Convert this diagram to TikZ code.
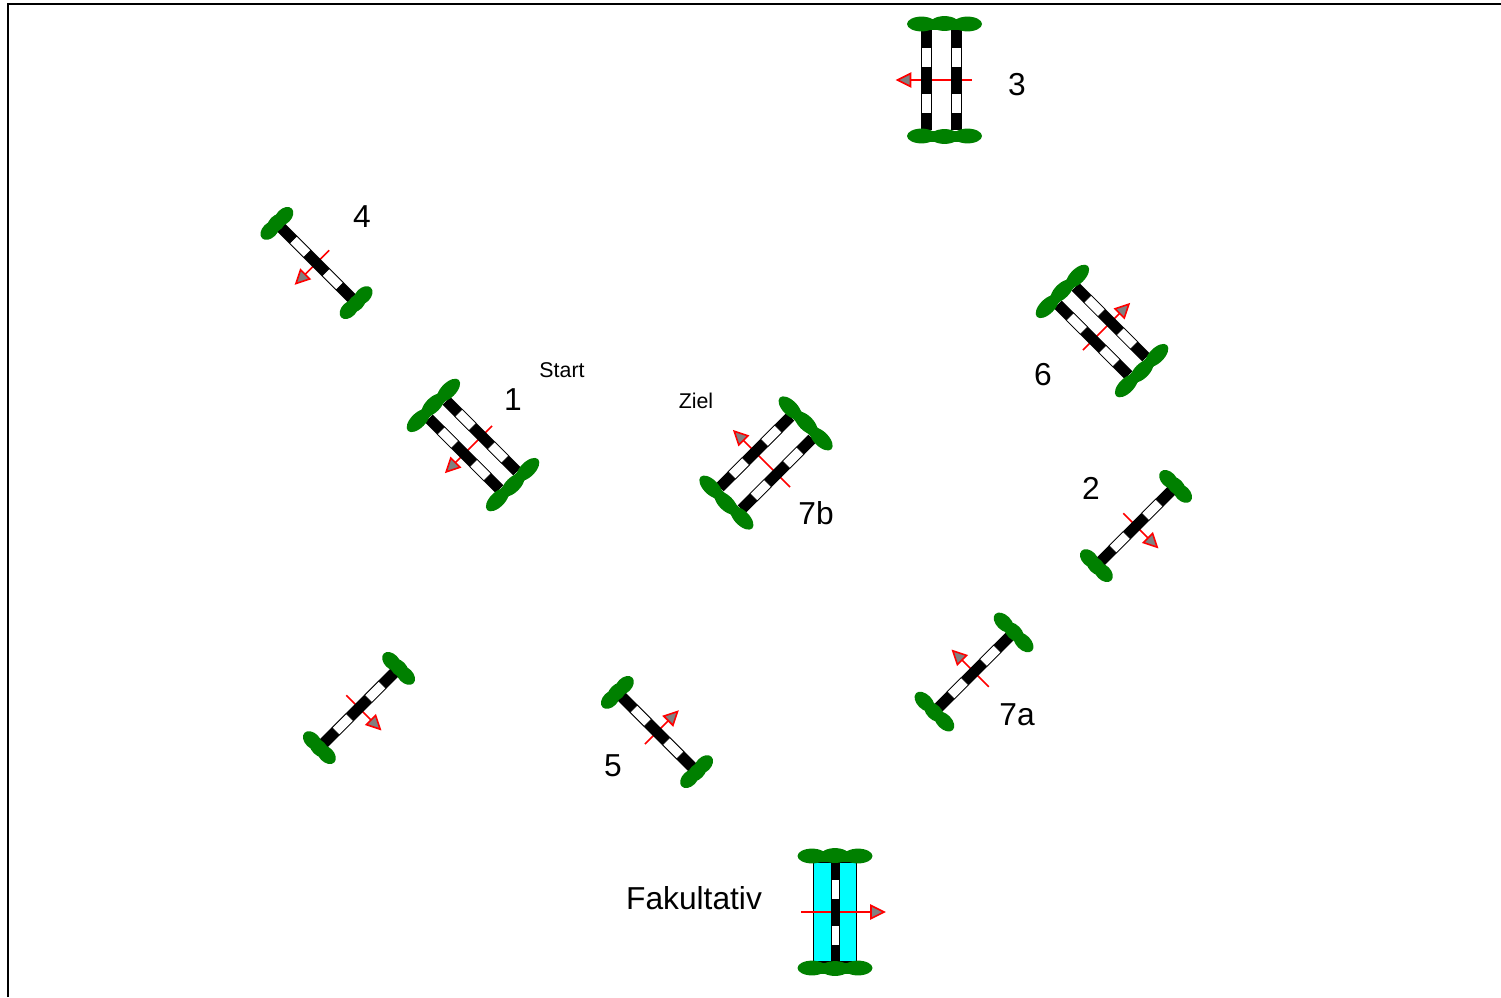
\documentclass[tikz,border=0pt]{standalone}
\usepackage{fontspec}
\setmainfont{Liberation Sans}
\definecolor{leaf}{RGB}{0,128,0}
\definecolor{rd}{RGB}{255,0,0}
\definecolor{hd}{RGB}{128,128,128}
\definecolor{aqua}{RGB}{0,255,255}
\tikzset{
  x=0.75pt,y=0.75pt,
  leafshape/.style={fill=leaf,draw=none},
  blackseg/.style={fill=black,draw=none},
  whiteseg/.style={fill=white,draw=black,line width=0.5pt},
  redline/.style={draw=rd,line width=1.2pt},
  redhead/.style={draw=rd,fill=hd,line width=1.2pt,line join=miter},
  biglabel/.style={font=\fontsize{23.8pt}{26pt}\selectfont,inner sep=0pt},
  smalllabel/.style={font=\fontsize{16pt}{18pt}\selectfont,inner sep=0pt}
}
% pole centred on local x = #1, half width #2
\newcommand{\pole}[2]{%
  \fill[blackseg] ({#1-#2},-50) rectangle ({#1+#2},50);
  \draw[whiteseg] ({#1-#2+0.4},13) rectangle ({#1+#2-0.4},33);
  \draw[whiteseg] ({#1-#2+0.4},-33) rectangle ({#1+#2-0.4},-13);
}
% foliage bars: #1 centre offset, #2 half-spacing of the blobs, #3 blob half length
\newcommand{\foliage}[3]{%
  \foreach \s in {1,-1}{%
    \fill[leafshape] ({#1-#2},{\s*56}) ellipse [x radius=#3,y radius=7.4];
    \fill[leafshape] (#1,{\s*56.5}) ellipse [x radius=#3,y radius=7.4];
    \fill[leafshape] ({#1+#2},{\s*56}) ellipse [x radius=#3,y radius=7.4];
    \fill[leafshape] ({#1-#2},{\s*56-5.5}) rectangle ({#1+#2},{\s*56+5.5});
  }%
}
% arrow: #1 name, #2 tail distance, #3 tip distance
\newcommand{\crossarrow}[3]{%
  \coordinate (#1t) at (#2,0);
  \coordinate (#1b) at ({-#3+12},0);
  \coordinate (#1p) at ({-#3},0);
  \draw[redline] (#1t) -- (#1b);
  \draw[redhead] (#1p) -- ({-#3+13},6.5) -- ({-#3+13},-6.5) -- cycle;
}
% #1 name, #2 cx, #3 cy, #4 rotation, #5 tail, #6 tip, #7 foliage offset, #8 pole offset, #9 blob spacing
\newcommand{\doublegate}[9]{%
  \begin{scope}[shift={(#2,-#3)},rotate=#4]
    \crossarrow{#1}{#5}{#6}
    \pole{-#8}{5.5}\pole{#8}{5.5}
    \foliage{#7}{#9}{14.5}
  \end{scope}}
\newcommand{\singlegate}[6]{%
  \begin{scope}[shift={(#2,-#3)},rotate=#4]
    \crossarrow{#1}{#5}{#6}
    \pole{0}{5.5}
    \foliage{0}{10}{11}
  \end{scope}}
\begin{document}
\begin{tikzpicture}
\useasboundingbox (0,0) rectangle (1501,-997);
\draw[line width=1.5pt] (8,-997) -- (8,-4) -- (1501,-4);

\doublegate{gthree}{941.5}{80}{0}{30}{44}{3}{15}{23}
\doublegate{gone}{473}{445}{45}{27}{38}{0}{12.5}{21.5}
\doublegate{gsix}{1102}{331}{225}{27}{38}{0}{12.5}{21.5}
\doublegate{gsevb}{766}{463}{-45}{34}{45}{0}{15.5}{22}

\singlegate{gfour}{316.5}{263}{45}{18}{29}
\singlegate{gtwo}{1136}{526}{135}{18}{30}
\singlegate{gnone}{359}{708}{135}{18}{30}
\singlegate{gfive}{657}{732}{225}{17}{29}
\begin{scope}[shift={(974,-672)},rotate=-45]
  \crossarrow{gseva}{21}{30}
  \pole{0}{5.5}
  \foliage{0}{14}{12}
\end{scope}

% optional gate
\begin{scope}[shift={(835,-912)},rotate=180]
  \draw[fill=aqua,line width=1.2pt] (-21.5,-50) rectangle (21.5,50);
  \crossarrow{gfak}{34}{49}
  \pole{0}{4.5}
  \foliage{0}{23}{14.5}
\end{scope}

\node[biglabel] (l3) at (1017,-85) {3};
\node[biglabel] (l4) at (362,-217) {4};
\node[biglabel] (l1) at (513,-400) {1};
\node[biglabel] (l6) at (1043,-375) {6};
\node[biglabel] (l2) at (1091,-488) {2};
\node[biglabel] (l7b) at (816,-513) {7b};
\node[biglabel] (l7a) at (1017,-715) {7a};
\node[biglabel] (l5) at (613,-766) {5};
\node[biglabel] (lfak) at (694,-898) {Fakultativ};
\node[smalllabel] (lstart) at (562,-370) {Start};
\node[smalllabel] (lziel) at (696,-401) {Ziel};
\end{tikzpicture}
\end{document}
